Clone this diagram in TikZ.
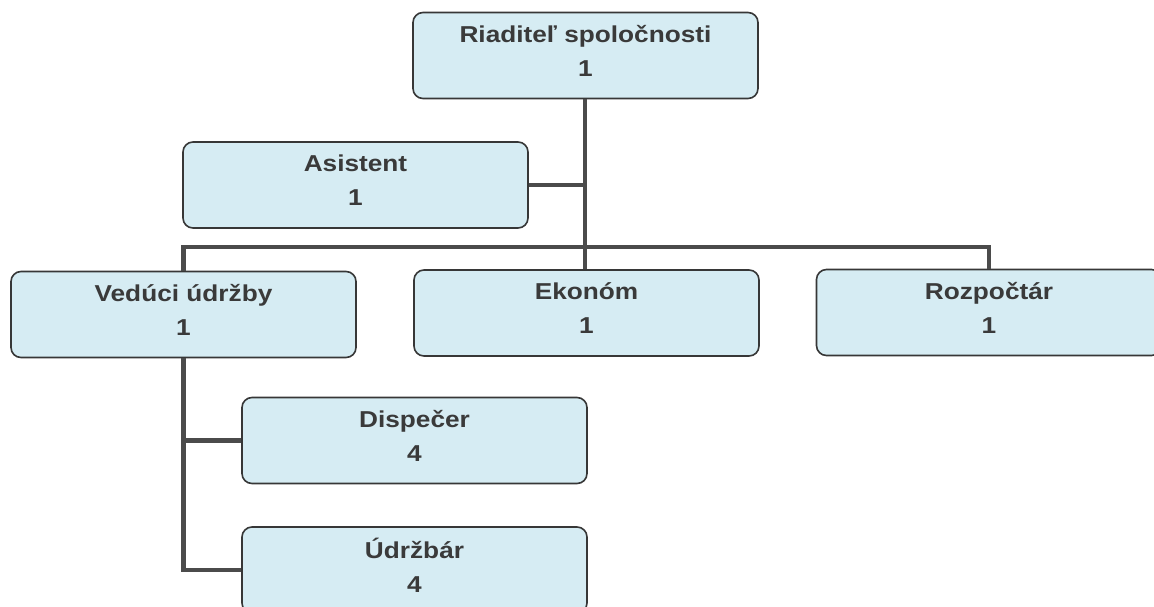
\documentclass[tikz,border=0pt]{standalone}
\usepackage{fontspec}
\newfontfamily\boxfont[FakeStretch=1.14]{Liberation Sans}
\definecolor{boxfill}{RGB}{214,236,243}
\definecolor{boxline}{RGB}{55,55,55}
\definecolor{connline}{RGB}{75,75,75}
\definecolor{txt}{RGB}{58,58,58}
\begin{document}
\begin{tikzpicture}[x=1pt,y=-1pt,
  orgbox/.style={draw=boxline, line width=1.6pt, fill=boxfill, rounded corners=10pt,
    minimum width=345pt, minimum height=86pt, inner sep=0pt, align=center,
    text=txt, font=\boxfont\bfseries\fontsize{23}{34}\selectfont, text depth=10pt},
  conn/.style={draw=connline, line width=4.5pt}]
\clip (0,0) rectangle (1154,606);
\fill[white] (0,0) rectangle (1154,606);
% connectors first (behind boxes)
\node[orgbox] (top) at (585.5,55.5) {Riaditeľ spoločnosti\\1};
\node[orgbox] (as)  at (355.5,185)  {Asistent\\1};
\node[orgbox] (ved) at (183.5,314.5) {Vedúci údržby\\1};
\node[orgbox] (ek)  at (586.5,313)  {Ekonóm\\1};
\node[orgbox] (roz) at (989,312.5)  {Rozpočtár\\1};
\node[orgbox] (dis) at (414.5,440.5) {Dispečer\\4};
\node[orgbox] (udr) at (414.5,570)  {Údržbár\\4};
\coordinate (bus) at (585,247);
\begin{scope}[on background layer/.style={}]
\draw[conn] (top.south -| bus) -- (ek.north -| bus);
\draw[conn] (as.east) -- (as.east -| bus);
\draw[conn] (ved.north) |- (roz.north |- bus) -- (roz.north);
\draw[conn] (ved.south) |- (udr.west);
\draw[conn] (ved.south |- dis.west) -- (dis.west);
\end{scope}
\end{tikzpicture}
\end{document}
